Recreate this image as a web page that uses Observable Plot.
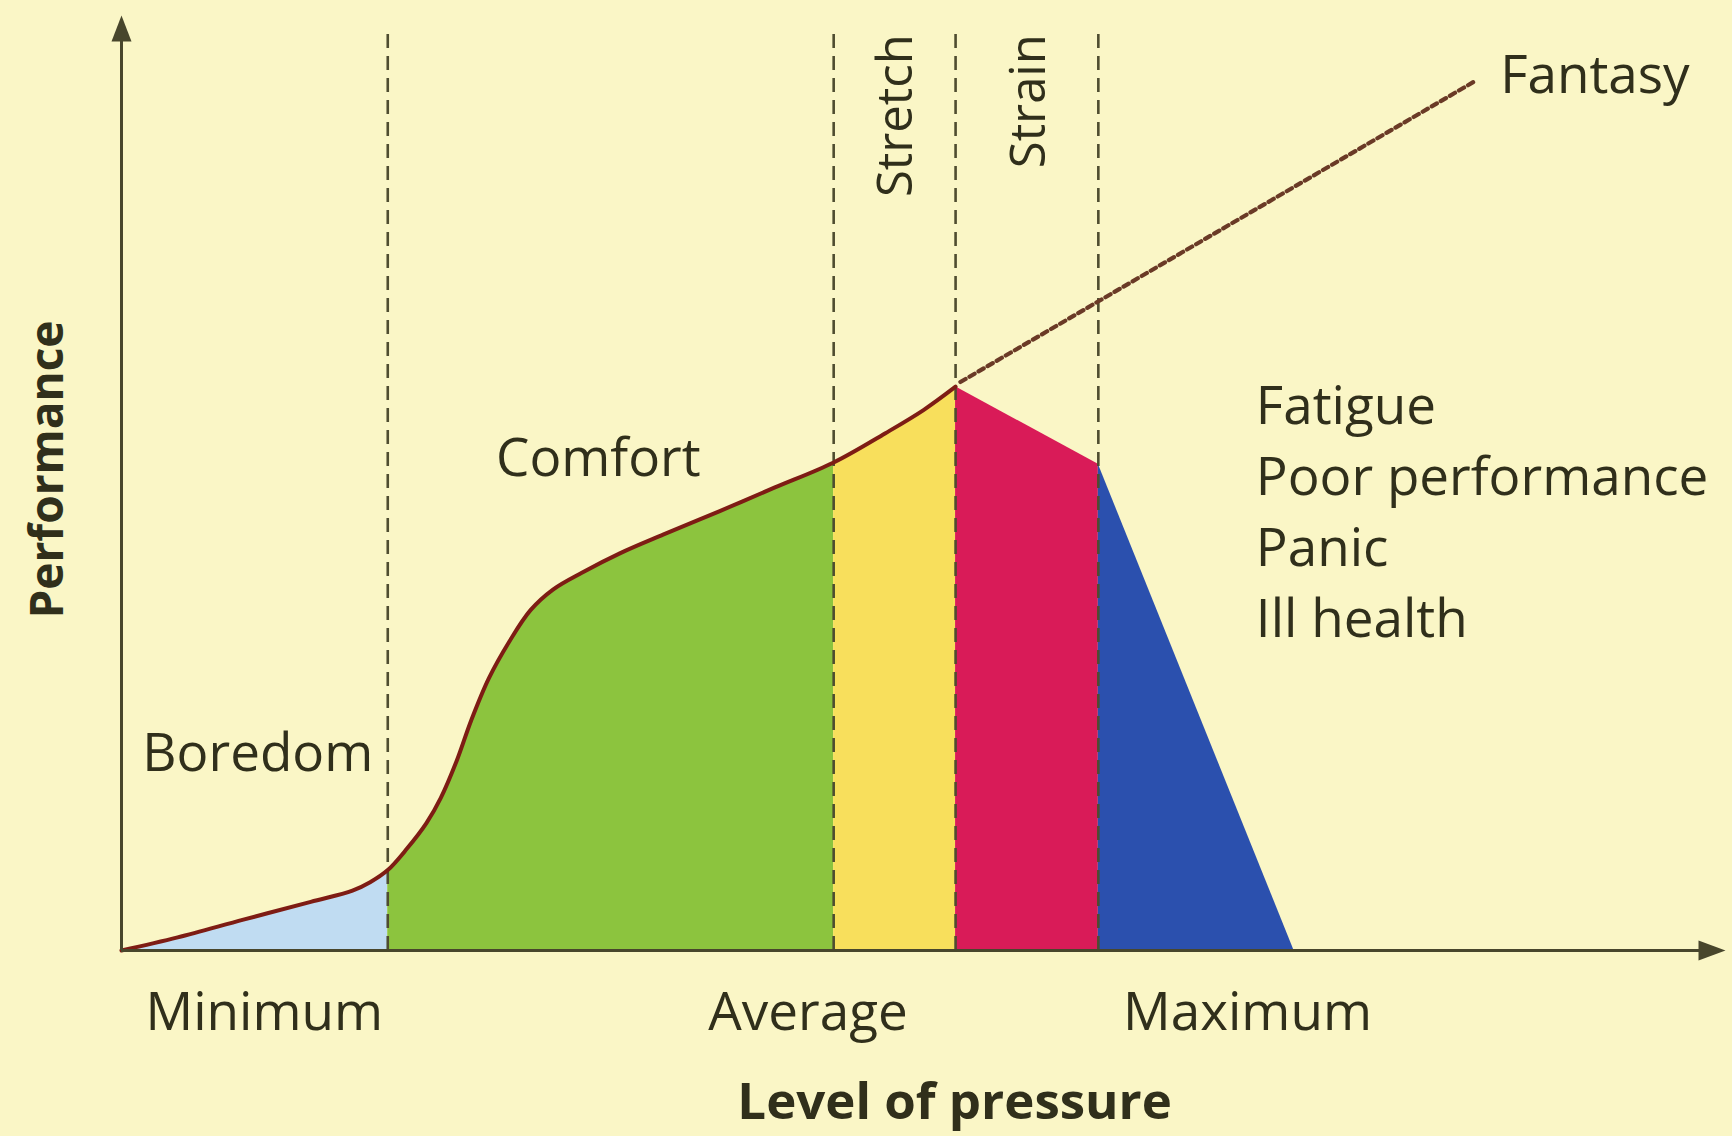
<!DOCTYPE html>
<html>
<head>
<meta charset="utf-8">
<script src="https://cdn.jsdelivr.net/npm/d3@7"></script>
<script src="https://cdn.jsdelivr.net/npm/@observablehq/plot@0.6"></script>
<style>
  html, body { margin: 0; padding: 0; background: #faf6c6; }
  svg { display: block; }
</style>
</head>
<body>
<script>
// ---- Data ----
const zoneNames = ["Boredom", "Comfort", "Stretch", "Strain", "Overload"];
const zoneStart = [0, 16.6, 44.4, 52.0, 60.9];
const zoneEnd   = [16.6, 44.4, 52.0, 60.9, 73.1];
const zoneColors = ["#c0dcf2", "#8cc43e", "#f8df5c", "#d91b58", "#2b50ae"];

// performance curve (level of pressure, performance)
const curvePressure    = [0, 3.5, 7.6, 11.8, 14.4, 15.5, 16.6, 17.8, 19.0, 19.9, 20.9, 21.8, 22.9, 24.2, 25.5, 26.9, 28.7, 31.1, 33.8, 37.3, 40.7, 44.4, 47.6, 50.0, 52.0];
const curvePerformance = [0, 1.4, 3.3, 5.2, 6.4, 7.3, 8.6, 10.9, 13.6, 16.3, 20.3, 24.6, 29.1, 33.1, 36.4, 38.6, 40.4, 42.5, 44.5, 47.0, 49.5, 52.2, 55.3, 57.8, 60.3];

// decline after the peak
const declinePressure    = [52.0, 60.9, 73.1];
const declinePerformance = [60.3, 52.0, 0];

// "Fantasy" extrapolation
const fantasyPressure    = [52.3, 84.5];
const fantasyPerformance = [60.8, 93.1];

const pressureLevels   = ["Minimum", "Average", "Maximum"];
const pressureLevelAt  = [8.9, 42.8, 70.2];
const symptoms = ["Fatigue", "Poor performance", "Panic", "Ill health"];

// ---- Derived tables ----
const curveRows = curvePressure.map((x, i) => ({x, y: curvePerformance[i]}));
const profile = [
  ...curveRows,
  ...declinePressure.slice(1).map((x, i) => ({x, y: declinePerformance[i + 1]}))
];
const zoneRows = zoneNames.flatMap((zone, i) =>
  profile.filter(p => p.x >= zoneStart[i] && p.x <= zoneEnd[i]).map(p => ({...p, zone}))
);
const fantasyRows = fantasyPressure.map((x, i) => ({x, y: fantasyPerformance[i]}));

// ---- Styles ----
const axisColor = "#48462c";
const textColor = "#302f1b";
const guideTop = 98.8;
const arrowUp = {draw(ctx) { ctx.moveTo(0, 0); ctx.lineTo(-10, 26); ctx.lineTo(10, 26); ctx.closePath(); }};
const arrowRight = {draw(ctx) { ctx.moveTo(0, 0); ctx.lineTo(-27, -10); ctx.lineTo(-27, 10); ctx.closePath(); }};

const chart = Plot.plot({
  width: 1732,
  height: 1136,
  marginLeft: 121,
  marginRight: 7,
  marginTop: 15,
  marginBottom: 186,
  x: {domain: [0, 100], axis: null},
  y: {domain: [0, 100], axis: null},
  color: {domain: zoneNames, range: zoneColors},
  style: {background: "#faf6c6", fontFamily: "'Open Sans', sans-serif", overflow: "visible"},
  marks: [
    Plot.areaY(zoneRows, {x: "x", y1: 0, y2: "y", z: "zone", fill: "zone", curve: "catmull-rom"}),
    Plot.ruleX(zoneStart.slice(1), {y1: 0, y2: guideTop, stroke: "#4f4d30", strokeWidth: 2.6, strokeDasharray: "14 8"}),
    Plot.line(curveRows, {x: "x", y: "y", stroke: "#7e1c14", strokeWidth: 4, curve: "catmull-rom"}),
    Plot.line(fantasyRows, {x: "x", y: "y", stroke: "#6a3a26", strokeWidth: 4.2, strokeDasharray: "6 4.5"}),
    // axes
    Plot.ruleY([0], {x1: 0, x2: 99, stroke: axisColor, strokeWidth: 3}),
    Plot.ruleX([0], {y1: 0, y2: 99, stroke: axisColor, strokeWidth: 3}),
    Plot.dot([0], {x: 100, y: 0, symbol: arrowRight, fill: axisColor, stroke: "none", r: 10}),
    Plot.dot([0], {x: 0, y: 100, symbol: arrowUp, fill: axisColor, stroke: "none", r: 10}),
    // zone labels
    Plot.text(["Boredom"], {x: 1.3, y: 19.25, text: d => d, textAnchor: "start", lineAnchor: "bottom", fontSize: 53, fill: textColor}),
    Plot.text(["Comfort"], {x: 23.35, y: 50.8, text: d => d, textAnchor: "start", lineAnchor: "bottom", fontSize: 53, fill: textColor}),
    Plot.text(["Stretch"], {x: 49.3, y: 98.0, text: d => d, rotate: -90, textAnchor: "end", lineAnchor: "bottom", fontSize: 49, fill: textColor}),
    Plot.text(["Strain"], {x: 57.6, y: 98.0, text: d => d, rotate: -90, textAnchor: "end", lineAnchor: "bottom", fontSize: 49, fill: textColor}),
    Plot.text(["Fantasy"], {x: 85.95, y: 91.7, text: d => d, textAnchor: "start", lineAnchor: "bottom", fontSize: 53, fill: textColor}),
    Plot.text([symptoms.join("\n")], {x: 70.72, y: 61.75, text: d => d, textAnchor: "start", lineAnchor: "top", lineHeight: 1.34, fontSize: 53, fill: textColor}),
    // pressure levels along the x axis
    Plot.text(pressureLevels, {x: (d, i) => pressureLevelAt[i], y: -8.45, text: d => d, textAnchor: "middle", lineAnchor: "bottom", fontSize: 53, fill: textColor}),
    // axis titles
    Plot.text(["Level of pressure"], {x: 51.94, y: -18.0, text: d => d, textAnchor: "middle", lineAnchor: "bottom", fontSize: 51, fontWeight: "bold", fill: textColor}),
    Plot.text(["Performance"], {x: -3.62, y: 51.44, text: d => d, rotate: -90, textAnchor: "middle", lineAnchor: "bottom", fontSize: 46, fontWeight: "bold", fill: textColor})
  ]
});
document.body.appendChild(chart);
</script>
</body>
</html>
